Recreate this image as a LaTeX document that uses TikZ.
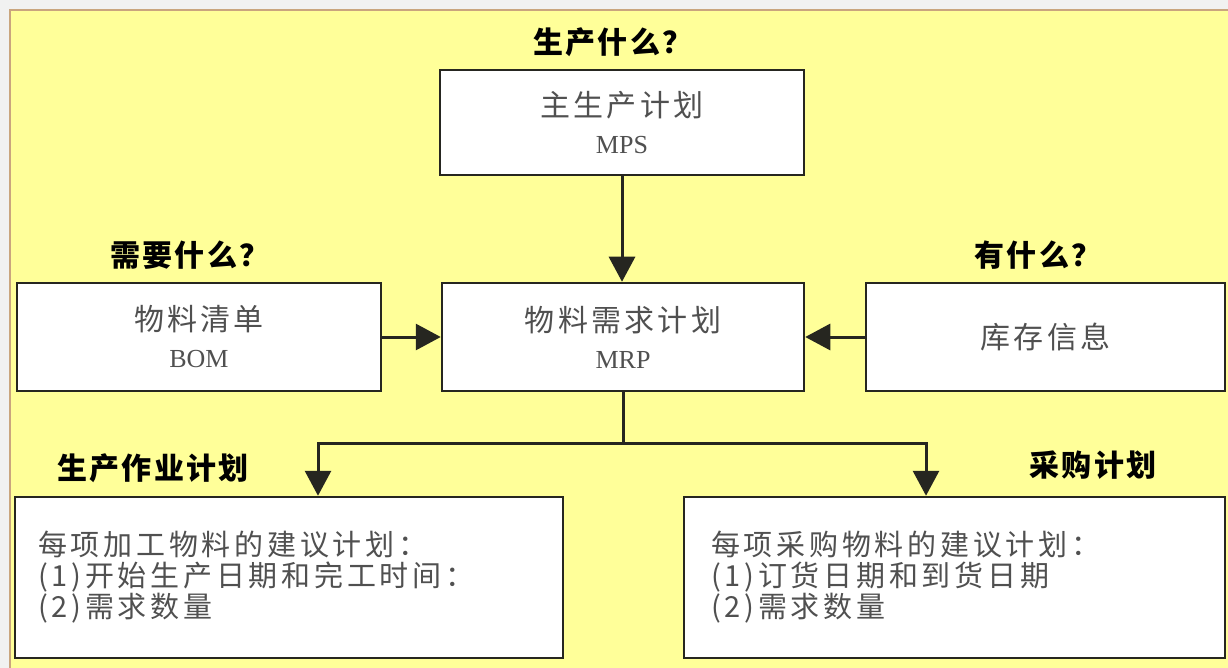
\documentclass[tikz,border=0pt]{standalone}
\usepackage{fontspec}
\setmainfont{Liberation Serif}
\newfontfamily\cjk{Noto Sans CJK SC}[LetterSpace=11]
\newfontfamily\cjkbody{Noto Sans CJK SC}[LetterSpace=13]
\newfontfamily\cjklbl{Noto Sans CJK SC}[LetterSpace=8]
\usetikzlibrary{arrows.meta}
\definecolor{bgyellow}{HTML}{FFFF99}
\definecolor{outergrey}{HTML}{F1F1F1}
\definecolor{edgetan}{HTML}{C9A57E}
\definecolor{boxline}{HTML}{262620}
\definecolor{textgrey}{HTML}{505050}
\begin{document}
\begin{tikzpicture}[x=1pt,y=-1pt,
  box/.style={draw=boxline, line width=2.5pt, fill=white, inner sep=0pt,
    text=textgrey, font=\cjk\fontsize{30}{37}\selectfont, align=center},
  textbox/.style={box, align=left, font=\cjkbody\fontsize{29}{31}\selectfont},
  lbl/.style={font=\cjklbl\bfseries\fontsize{30}{36}\selectfont, text=black, inner sep=0pt},
  conn/.style={draw=boxline, line width=3pt},
  arr/.style={conn, -{Triangle[length=25pt,width=26pt]}}]
\useasboundingbox (0,0) rectangle (1228,668);
\fill[outergrey] (0,0) rectangle (1228,668);
\fill[bgyellow] (10,10) rectangle (1228,668);
\draw[edgetan, line width=2pt] (10,668) -- (10,10) -- (1228,10);

% labels
\node[lbl] (q1) at (613,42) {生产什么？};
\node[lbl] (q2) at (190,255) {需要什么？};
\node[lbl] (q3) at (1038,255) {有什么？};
\node[lbl] (q4) at (153,468) {生产作业计划};
\node[lbl] (q5) at (1093,465) {采购计划};

% boxes
\node[box, minimum width=364pt, minimum height=105pt] (mps) at (622,122.5)
  {主生产计划\\{\rmfamily\fontsize{26}{37}\selectfont MPS}};
\node[box, minimum width=364pt, minimum height=108pt] (bom) at (199,337)
  {物料清单\\{\rmfamily\fontsize{26}{37}\selectfont BOM}};
\node[box, minimum width=362pt, minimum height=108pt] (mrp) at (623,337)
  {物料需求计划\\{\rmfamily\fontsize{26}{37}\selectfont MRP}};
\node[box, minimum width=359pt, minimum height=108pt] (kc) at (1045.5,337)
  {库存信息};
\node[textbox, minimum width=548pt, minimum height=161pt, text width=502pt, inner xsep=23pt] (bl) at (289,577.5)
  {每项加工物料的建议计划：\\(1)开始生产日期和完工时间：\\(2)需求数量};
\node[textbox, minimum width=541pt, minimum height=161pt, text width=487pt, inner xsep=27pt] (br) at (954.5,577.5)
  {每项采购物料的建议计划：\\(1)订货日期和到货日期\\(2)需求数量};

% connectors
\coordinate (split) at (623,443);
\draw[arr] (mps.south) -- (mps.south |- mrp.north);
\draw[arr] (bom.east) -- (mrp.west);
\draw[arr] (kc.west) -- (mrp.east);
\draw[conn] (mrp.south) -- (split);
\draw[arr] (split) -| ([xshift=29pt]bl.north);
\draw[arr] (split) -| ([xshift=-28.5pt]br.north);
\end{tikzpicture}
\end{document}
